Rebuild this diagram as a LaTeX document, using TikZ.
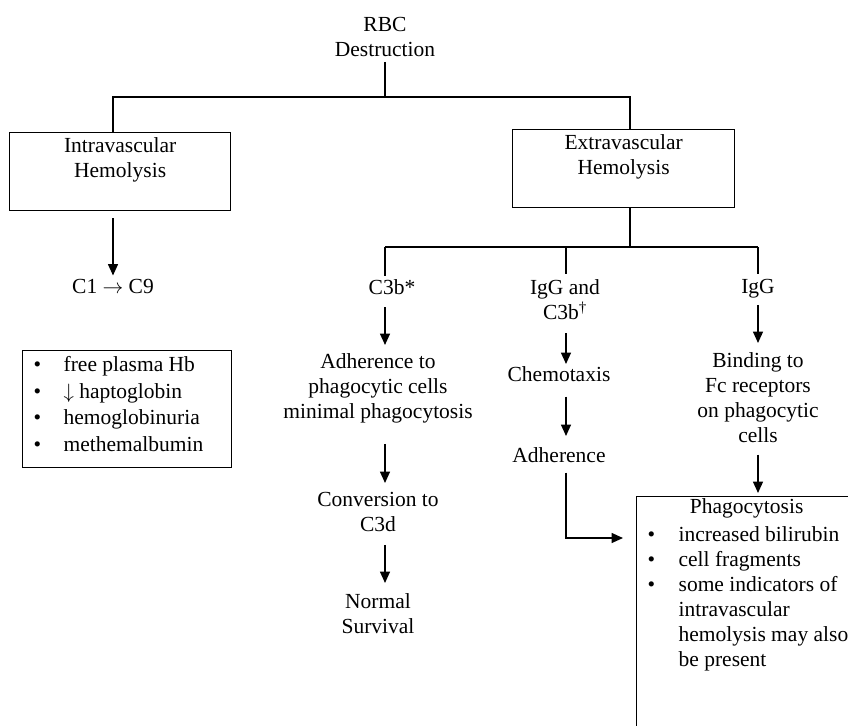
\documentclass[tikz,border=0pt]{standalone}
\usepackage{fontspec}
\setmainfont{Liberation Serif}
\usetikzlibrary{arrows.meta}
\tikzset{
  txt/.style={inner sep=0pt, align=center, anchor=north, font=\fontsize{21.5}{25}\selectfont},
  boxnode/.style={draw, line width=1.3pt, inner sep=0pt, anchor=north west, font=\fontsize{21.5}{25}\selectfont},
  ln/.style={line width=1.3pt},
  arr/.style={line width=1.6pt, -{Triangle[length=11.5pt,width=10pt]}},
}
\begin{document}
\begin{tikzpicture}[x=1pt,y=-1pt]
\useasboundingbox (0,0) rectangle (848,725);
\clip (0,0) rectangle (848,725);
% nodes
\node[txt] (rbc) at (385,17) {RBC\\Destruction};
\node[boxnode] (intra) at (9,132) {\parbox[c][78pt][t]{221pt}{\centering\rule{0pt}{20pt}Intravascular\\Hemolysis}};
\node[boxnode] (extra) at (512,129) {\parbox[c][78pt][t]{222pt}{\centering\rule{0pt}{20pt}Extravascular\\Hemolysis}};
\node[txt] (c1c9) at (113,279.5) {C1 $\rightarrow$ C9};
\node[boxnode] (signs) at (22,350) {\parbox[c][117pt][t]{209pt}{\fontsize{21.5}{26.5}\selectfont\raggedright
  \rule{0pt}{21pt}\hspace*{11pt}\makebox[30pt][l]{\textbullet}free plasma Hb\\
  \hspace*{11pt}\makebox[30pt][l]{\textbullet}$\downarrow$ haptoglobin\\
  \hspace*{11pt}\makebox[30pt][l]{\textbullet}hemoglobinuria\\
  \hspace*{11pt}\makebox[30pt][l]{\textbullet}methemalbumin}};
\node[txt] (c3b) at (392,279.5) {C3b*};
\node[txt] (adh) at (378,353) {Adherence to\\phagocytic cells\\minimal phagocytosis};
\node[txt] (conv) at (378,492) {Conversion to\\C3d};
\node[txt] (norm) at (378,593) {Normal\\Survival};
\node[txt] (iggc) at (565,279.5) {IgG and\\C3b\textsuperscript{†}};
\node[txt] (chemo) at (559,366) {Chemotaxis};
\node[txt] (adh2) at (559,447) {Adherence};
\node[txt] (igg) at (758,279.5) {IgG};
\node[txt] (bind) at (758,352) {Binding to\\Fc receptors\\on phagocytic\\cells};
\node[boxnode] (phago) at (636,496) {\parbox[c][240pt][t]{220pt}{\raggedright
  \rule{0pt}{17pt}\makebox[220pt]{Phagocytosis}\\[3pt]
  \hspace*{11pt}\makebox[31pt][l]{\textbullet}increased bilirubin\\
  \hspace*{11pt}\makebox[31pt][l]{\textbullet}cell fragments\\
  \hspace*{11pt}\makebox[31pt][l]{\textbullet}some indicators of\\
  \hspace*{42pt}intravascular\\
  \hspace*{42pt}hemolysis may also\\
  \hspace*{42pt}be present}};
% junction coordinates
\coordinate (j1) at (113,97);
\coordinate (j0) at (385,97);
\coordinate (j2) at (630,97);
\coordinate (j3) at (630,247);
\coordinate (j4) at (385,247);
\coordinate (j5) at (758,247);
\coordinate (jm) at (566,247);
\coordinate (k) at (566,538);
% top tree
\draw[ln, shorten <=5pt] (rbc.south) -- (j0);
\draw[ln] (intra.north -| j1) -- (j1) -- (j2) -- (extra.north -| j2);
% intravascular branch
\draw[arr, shorten <=7pt, shorten >=4pt] (intra.south -| j1) -- (c1c9.north -| j1);
% extravascular bus
\draw[ln] (extra.south -| j3) -- (j3);
\draw[ln] (j4) -- (j5);
\draw[ln, shorten >=4pt] (j4) -- (c3b.north -| j4);
\draw[ln, shorten >=6pt] (jm) -- (iggc.north -| jm);
\draw[ln, shorten >=6pt] (j5) -- (igg.north -| j5);
% C3b* column
\draw[arr, shorten <=12pt, shorten >=8pt] (c3b.south -| j4) -- (adh.north -| j4);
\draw[arr, shorten <=21pt, shorten >=9pt] (adh.south -| j4) -- (conv.north -| j4);
\draw[arr, shorten <=13pt, shorten >=10pt] (conv.south -| j4) -- (norm.north -| j4);
% IgG and C3b column
\draw[arr, shorten <=13pt, shorten >=2pt] (iggc.south -| jm) -- (chemo.north -| jm);
\draw[arr, shorten <=15pt, shorten >=11pt] (chemo.south -| jm) -- (adh2.north -| jm);
\draw[arr, shorten <=10pt, shorten >=13pt] (adh2.south -| k) -- (k) -- (k -| phago.west);
% IgG column
\draw[arr, shorten <=6pt, shorten >=9pt] (igg.south) -- (bind.north);
\draw[arr, shorten <=12pt, shorten >=3pt] (bind.south) -- (bind.south |- phago.north);
\end{tikzpicture}
\end{document}
